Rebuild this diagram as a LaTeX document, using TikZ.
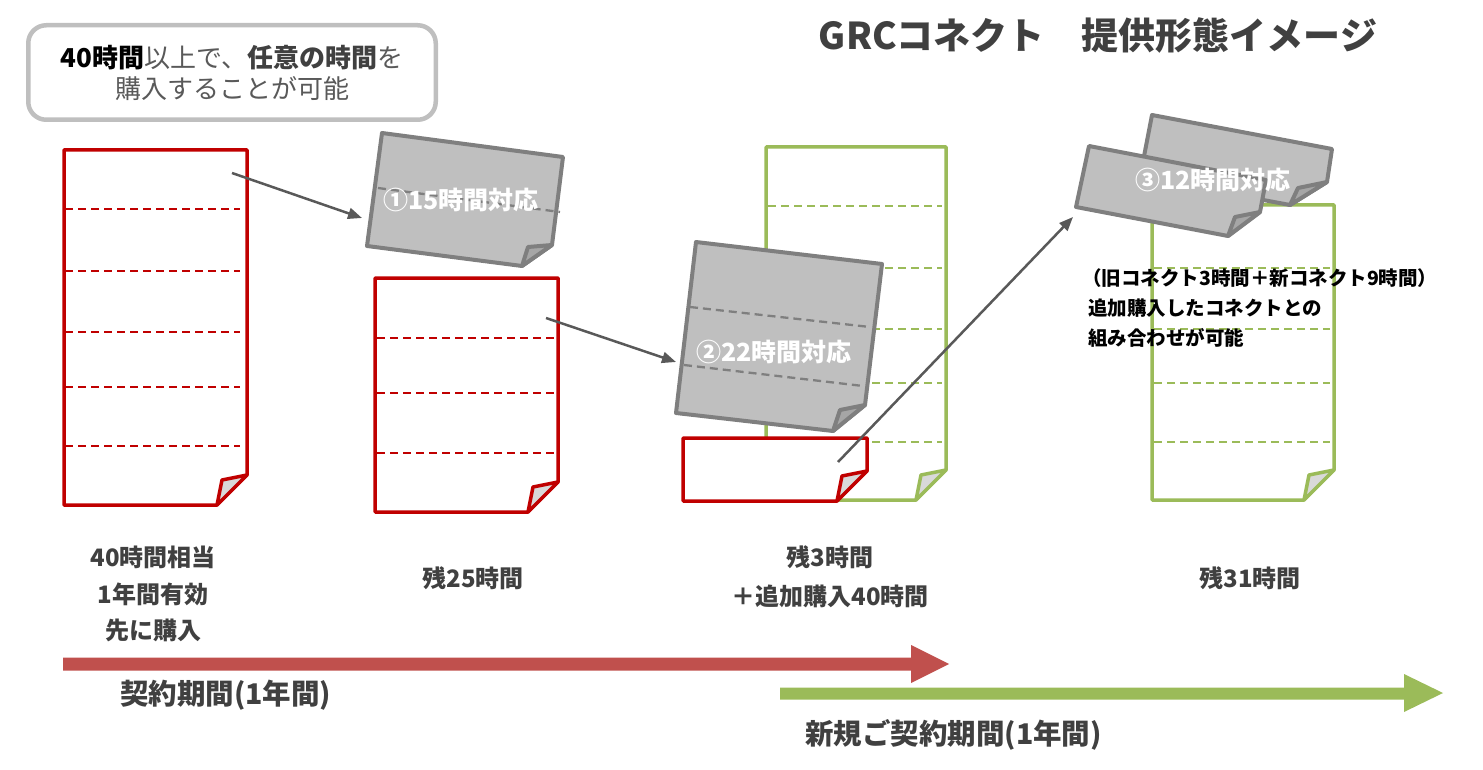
\documentclass[tikz,border=0pt]{standalone}
\usepackage{fontspec}
\setmainfont{Noto Sans CJK JP}
\usetikzlibrary{arrows.meta}
\definecolor{docred}{HTML}{C00000}
\definecolor{docgreen}{HTML}{9BBB59}
\definecolor{arrred}{HTML}{C0504D}
\definecolor{arrgreen}{HTML}{9BBB59}
\definecolor{paperg}{HTML}{BFBFBF}
\definecolor{edgeg}{HTML}{7F7F7F}
\definecolor{foldg}{HTML}{A6A6A6}
\definecolor{foldl}{HTML}{D9D9D9}
\definecolor{txtg}{HTML}{404040}
\definecolor{lightt}{HTML}{595959}
\definecolor{connc}{HTML}{595959}
\definecolor{boxg}{HTML}{BFBFBF}
\newcommand\pagedoc[6]{%
  \draw[#1,fill=white] (#2,#3) -- (#4,#3) -- (#4,#5-30) -- (#4-30,#5) -- (#2,#5) -- cycle;
  \draw[#1,fill=#6] (#4,#5-30) -- (#4-25,#5-25) -- (#4-30,#5) -- cycle;}
\tikzset{
  reddoc/.style={draw=docred,line width=3.5pt,line join=round},
  greendoc/.style={draw=docgreen,line width=3.5pt,line join=round},
  reddash/.style={draw=docred,line width=2.3pt,dash pattern=on 8pt off 5pt},
  greendash/.style={draw=docgreen,line width=2.3pt,dash pattern=on 8pt off 5pt},
  graydoc/.style={draw=edgeg,fill=paperg,line width=4pt,line join=round},
  grayfold/.style={draw=edgeg,fill=foldg,line width=4pt,line join=round},
  graydash/.style={draw=edgeg,line width=2.3pt,dash pattern=on 8pt off 5pt},
  conn/.style={draw=connc,line width=2.5pt,-{Triangle[length=14pt,width=11pt]}},
  lbl/.style={text=txtg,font={\fontsize{24}{36.5}\selectfont\bfseries},align=center,inner sep=0pt},
  papertxt/.style={text=white,font={\fontsize{25}{25}\selectfont\bfseries},inner sep=0pt},
  period/.style={anchor=west,text=txtg,font={\fontsize{28.5}{30}\selectfont\bfseries},inner sep=0pt}
}
\begin{document}
\begin{tikzpicture}[x=1pt,y=-1pt]
\useasboundingbox (0,0) rectangle (1483,770);
% title
\node[text=txtg,font={\fontsize{37}{37}\selectfont\bfseries},inner sep=0pt] (title) at (1098,35) {GRCコネクト　提供形態イメージ};
% note box
\node[draw=boxg,line width=4.5pt,rounded corners=18pt,fill=white,minimum width=407.5pt,minimum height=94.5pt,align=center,inner sep=0pt,font={\fontsize{26}{31}\selectfont}] (note) at (232,72.5)
 {{\bfseries\color{black}40時間}{\color{lightt}以上で、}{\bfseries\color{txtg}任意の時間}{\color{lightt}を}\\{\color{lightt}購入することが可能}};
% doc 1
\pagedoc{reddoc}{64}{150}{247}{505}{foldl}
\foreach \yy in {209,271,332,387,446} \draw[reddash] (65,\yy) -- (240,\yy);
% doc 2
\pagedoc{reddoc}{375}{278}{558}{512}{foldl}
\foreach \yy in {338,393,453} \draw[reddash] (377,\yy) -- (560,\yy);
% paper 1
\draw[graydoc] (382,133) -- (563,157) -- (552,245) -- (522,266) -- (367,246) -- cycle;
\draw[grayfold] (552,245) -- (528,247) -- (522,266) -- cycle;
\draw[graydash] (378,188) -- (560,212);
\node[papertxt] (p1) at (461,200) {①15時間対応};
% doc 3 (green)
\pagedoc{greendoc}{766}{147}{946}{500}{foldl}
\foreach \yy in {206,268,329,383,442} \draw[greendash] (768,\yy) -- (942,\yy);
% paper 2
\draw[graydoc] (696,242) -- (882,264) -- (865,405) -- (833,431) -- (676,413) -- cycle;
\draw[grayfold] (865,405) -- (840,410) -- (833,431) -- cycle;
\draw[graydash] (690,307) -- (870,327);
\draw[graydash] (684,365) -- (863,386);
\node[papertxt] (p2) at (774,352) {②22時間対応};
% remaining red doc
\pagedoc{reddoc}{683}{438}{867}{501}{foldl}
% doc 4 (green)
\pagedoc{greendoc}{1152}{205}{1334}{500}{foldl}
\foreach \yy in {268,329,383,442} \draw[greendash] (1154,\yy) -- (1330,\yy);
% paper 3 back and front
\draw[graydoc] (1152,115) -- (1332,149) -- (1327,182) -- (1290,205) -- (1140,177) -- cycle;
\draw[grayfold] (1327,182) -- (1298,188) -- (1290,205) -- cycle;
\draw[graydoc] (1089,146) -- (1266,180) -- (1260,212) -- (1228,236) -- (1076,207) -- cycle;
\draw[grayfold] (1260,212) -- (1235,217) -- (1228,236) -- cycle;
\node[papertxt] (p3) at (1213,180) {③12時間対応};
% side text
\node[anchor=west,align=left,text=black,font={\fontsize{19.5}{30}\selectfont\bfseries},inner sep=0pt] (side) at (1088,308)
 {\hspace*{-6pt}（旧コネクト3時間＋新コネクト9時間）\\追加購入したコネクトとの\\組み合わせが可能};
% connectors
\coordinate (a1s) at (232,173); \coordinate (a1e) at (362,218);
\coordinate (a2s) at (546,318); \coordinate (a2e) at (676,362);
\coordinate (a3s) at (838,462); \coordinate (a3e) at (1073,217);
\draw[conn] (a1s) -- (a1e);
\draw[conn] (a2s) -- (a2e);
\draw[conn] (a3s) -- (a3e);
% bottom labels
\node[lbl] (l1) at (153,594) {40時間相当\\1年間有効\\先に購入};
\node[lbl] (l2) at (473,578) {残25時間};
\node[lbl,font={\fontsize{24}{39}\selectfont\bfseries}] (l3) at (830,577) {残3時間\\＋追加購入40時間};
\node[lbl] (l4) at (1250,578) {残31時間};
% period arrows
\fill[arrred] (63,657.5) -- (911,657.5) -- (911,645) -- (949,664) -- (911,683) -- (911,670.5) -- (63,670.5) -- cycle;
\fill[arrgreen] (780,687.5) -- (1404,687.5) -- (1404,674) -- (1443,693) -- (1404,712) -- (1404,699.5) -- (780,699.5) -- cycle;
\node[period] (per1) at (120,695) {契約期間(1年間)};
\node[period] (per2) at (805,735) {新規ご契約期間(1年間)};
\end{tikzpicture}
\end{document}
